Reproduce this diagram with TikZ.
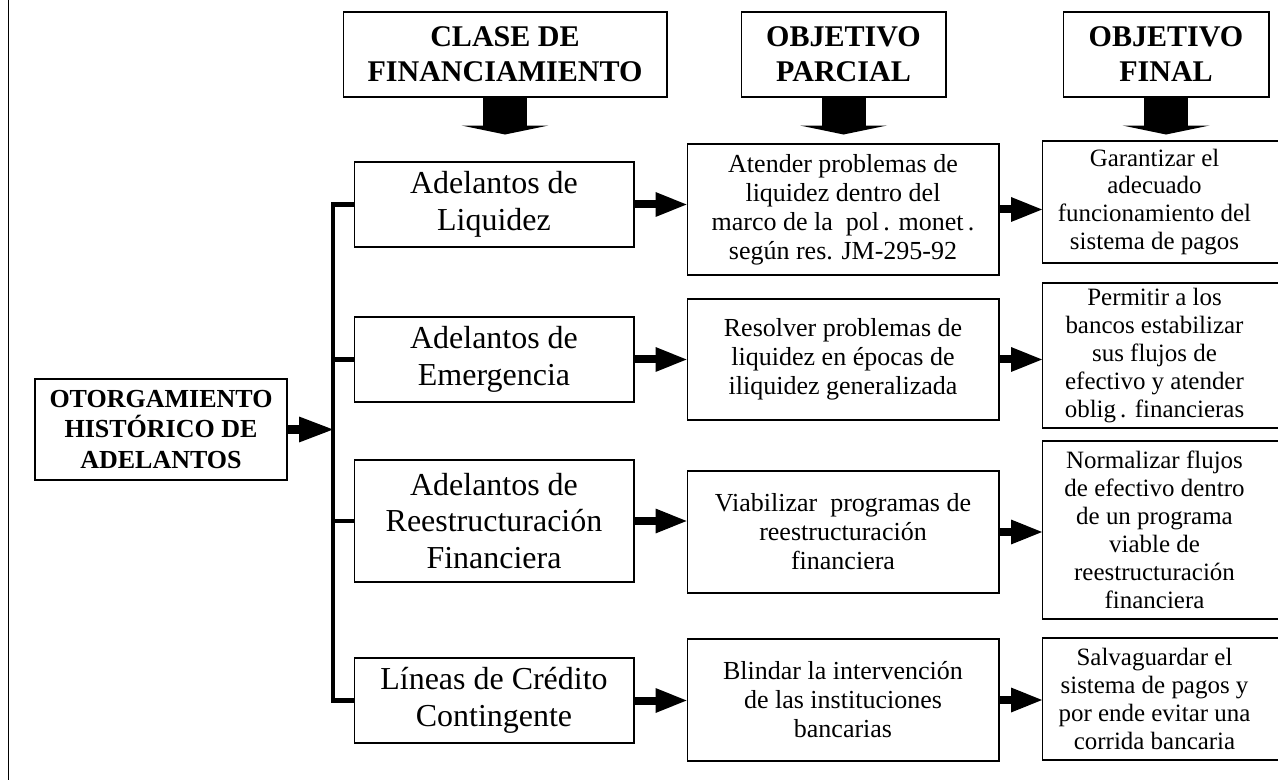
\documentclass[tikz,border=0pt]{standalone}
\usepackage{fontspec}
\setmainfont{Liberation Serif}
\usetikzlibrary{arrows.meta}
\tikzset{
  hdrbox/.style={draw, line width=0.6pt, align=center, inner sep=0pt,
    font=\bfseries\fontsize{17.1}{19.9}\selectfont, minimum height=1.7cm},
  otobox/.style={draw, line width=0.6pt, align=center, inner sep=0pt,
    font=\bfseries\fontsize{14.8}{17.6}\selectfont, minimum width=5.04cm, minimum height=2.02cm},
  clsbox/.style={draw, line width=0.6pt, align=center, inner sep=0pt,
    font=\fontsize{18.2}{21}\selectfont, minimum width=5.6cm},
  parcbox/.style={draw, line width=0.6pt, align=center, inner sep=0pt,
    font=\fontsize{14.8}{16.5}\selectfont, minimum width=6.24cm},
  finbox/.style={draw, line width=0.6pt, anchor=west, inner sep=0pt,
    font=\fontsize{14.2}{15.9}\selectfont,
    execute at begin node={\begin{minipage}{4.48cm}\centering},
    execute at end node={\end{minipage}\hspace*{1.4cm}}},
  fatdown/.style={line width=0.88cm, -{Triangle[length=0.18cm, width=1.74cm, line width=0pt]}},
  fatright/.style={line width=0.16cm, -{Triangle[length=0.62cm, width=0.5cm, line width=0pt]}},
  bracket/.style={line width=0.09cm, line join=miter}
}
\begin{document}
\begin{tikzpicture}[x=0.02cm, y=-0.02cm]
\useasboundingbox (0,0) rectangle (1278,780);
\clip (0,0) rectangle (1278,780);
\draw[line width=0.85pt] (8.5,0) -- (8.5,780);

\node[hdrbox, minimum width=6.48cm] (hdr1) at (505,54.5) {CLASE DE\\FINANCIAMIENTO};
\node[hdrbox, minimum width=4.1cm] (hdr2) at (843.5,54.5) {OBJETIVO\\PARCIAL};
\node[hdrbox, minimum width=4.12cm] (hdr3) at (1166,54.5) {OBJETIVO\\FINAL};

\node[otobox] (oto) at (161,429.5) {OTORGAMIENTO\\HISTÓRICO DE\\ADELANTOS};

\node[clsbox, minimum height=1.7cm] (liq) at (494,204.5) {Adelantos de\\Liquidez};
\node[clsbox, minimum height=1.7cm] (emg) at (494,359.5) {Adelantos de\\Emergencia};
\node[clsbox, minimum height=2.44cm] (rst) at (494,521) {Adelantos de\\Reestructuración\\Financiera};
\node[clsbox, minimum height=1.7cm] (lin) at (494,700.5) {Líneas de Crédito\\Contingente};

\node[parcbox, minimum height=2.62cm] (atn) at (843,209.5) {Atender problemas de\\liquidez dentro del\\marco de la\ \ pol\,. monet\,.\\según res. JM-295-92};
\node[parcbox, minimum height=2.42cm] (rsv) at (843,359.5) {Resolver problemas de\\liquidez en épocas de\\iliquidez generalizada};
\node[parcbox, minimum height=2.44cm] (via) at (843,532) {Viabilizar\ \ programas de\\reestructuración\\financiera};
\node[parcbox, minimum height=2.44cm] (bli) at (843,700) {Blindar la intervención\\de las instituciones\\bancarias};

\node[finbox, minimum height=2.44cm] (gar) at (1042,202) {Garantizar el\\adecuado\\funcionamiento del\\sistema de pagos};
\node[finbox, minimum height=2.9cm] (per) at (1042,355.5) {Permitir a los\\bancos estabilizar\\sus flujos de\\efectivo y atender\\oblig\,. financieras};
\node[finbox, minimum height=3.56cm] (nor) at (1042,530) {Normalizar flujos\\de efectivo dentro\\de un programa\\viable de\\reestructuración\\financiera};
\node[finbox, minimum height=2.44cm] (sal) at (1042,699) {Salvaguardar el\\sistema de pagos y\\por ende evitar una\\corrida bancaria};

\coordinate (bus) at (333,0);
\coordinate (t1) at ([yshift=-0.74cm]hdr1.south);
\coordinate (t2) at ([yshift=-0.74cm]hdr2.south);
\coordinate (t3) at ([yshift=-0.74cm]hdr3.south);
\draw[fatdown] (hdr1.south) -- (t1);
\draw[fatdown] (hdr2.south) -- (t2);
\draw[fatdown] (hdr3.south) -- (t3);

\draw[bracket] (liq.west) -- (liq.west -| bus) -- (lin.west -| bus) -- (lin.west);
\draw[bracket] (emg.west) -- (emg.west -| bus);
\draw[bracket] (rst.west) -- (rst.west -| bus);
\draw[line width=0.18cm, -{Triangle[length=0.68cm, width=0.52cm, line width=0pt]}] (oto.east) -- (oto.east -| bus);

\draw[fatright] (liq.east) -- (liq.east -| atn.west);
\draw[fatright] (emg.east) -- (emg.east -| rsv.west);
\draw[fatright] (rst.east) -- (rst.east -| via.west);
\draw[fatright] (lin.east) -- (lin.east -| bli.west);
\draw[fatright] (atn.east) -- (atn.east -| gar.west);
\draw[fatright] (rsv.east) -- (rsv.east -| per.west);
\draw[fatright] (via.east) -- (via.east -| nor.west);
\draw[fatright] (bli.east) -- (bli.east -| sal.west);
\end{tikzpicture}
\end{document}
